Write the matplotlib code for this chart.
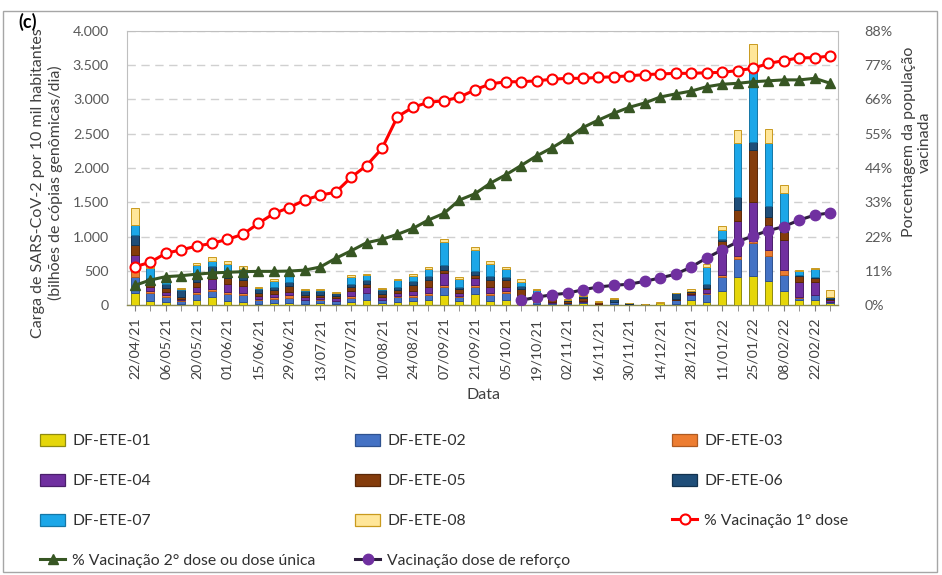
import matplotlib
matplotlib.use("Agg")
import matplotlib.pyplot as plt
from matplotlib.patches import Rectangle, Patch
from matplotlib.lines import Line2D
from matplotlib.ticker import FuncFormatter, MultipleLocator
import numpy as np

plt.rcParams['font.family'] = ['Lato', 'DejaVu Sans']

# ---------------- data ----------------
tick_labels = ["22/04/21", "06/05/21", "20/05/21", "01/06/21", "15/06/21", "29/06/21",
               "13/07/21", "27/07/21", "10/08/21", "24/08/21", "07/09/21", "21/09/21",
               "05/10/21", "19/10/21", "02/11/21", "16/11/21", "30/11/21", "14/12/21",
               "28/12/21", "11/01/22", "25/01/22", "08/02/22", "22/02/22"]

ete01 = [170, 60, 40, 20, 70, 110, 60, 50, 20, 30, 30, 20, 30, 15, 40, 80, 30, 50, 60, 80,
         140, 60, 160, 60, 80, 40, 20, 20, 20, 25, 15, 10, 0, 0, 25, 10, 80, 40, 204, 404,
         423, 355, 209, 70, 80, 35]
ete02 = [243, 120, 80, 40, 90, 90, 100, 90, 50, 60, 70, 50, 50, 40, 60, 90, 40, 60, 60, 70,
         130, 50, 110, 90, 90, 40, 30, 15, 10, 20, 0, 40, 20, 10, 0, 60, 60, 120, 209, 263,
         477, 365, 229, 30, 60, 15]
ete03 = [97, 30, 20, 10, 30, 30, 30, 30, 20, 30, 40, 10, 10, 10, 30, 10, 10, 20, 20, 30,
         20, 20, 20, 30, 30, 20, 10, 0, 0, 0, 0, 0, 0, 0, 0, 0, 5, 10, 30, 49,
         40, 83, 73, 10, 10, 0]
ete04 = [219, 60, 50, 20, 80, 150, 120, 110, 40, 40, 50, 40, 30, 30, 70, 90, 40, 50, 60, 80,
         180, 40, 110, 90, 70, 40, 20, 15, 0, 20, 0, 0, 0, 0, 0, 10, 20, 60, 365, 516,
         569, 365, 438, 230, 190, 30]
ete05 = [146, 70, 60, 30, 60, 100, 90, 80, 40, 60, 90, 30, 30, 30, 60, 40, 40, 40, 90, 100,
         40, 60, 40, 100, 90, 100, 40, 40, 30, 40, 25, 0, 0, 0, 10, 10, 20, 20, 122, 156,
         754, 122, 112, 80, 50, 10]
ete06 = [146, 60, 50, 100, 110, 90, 110, 70, 60, 40, 60, 60, 50, 50, 50, 60, 60, 40, 60, 60,
         70, 40, 60, 60, 50, 40, 20, 10, 10, 20, 10, 40, 14, 10, 0, 80, 15, 50, 30, 195,
         122, 156, 107, 20, 20, 20]
ete07 = [146, 140, 90, 10, 140, 76, 90, 100, 20, 90, 90, 10, 20, 5, 100, 70, 10, 100, 70, 110,
         340, 110, 300, 170, 110, 60, 80, 5, 0, 10, 0, 0, 0, 0, 0, 5, 10, 260, 136, 788,
         1119, 925, 462, 50, 110, 0]
ete08 = [243, 40, 25, 24, 40, 50, 42, 35, 18, 28, 25, 19, 19, 15, 28, 12, 20, 20, 30, 30,
         40, 22, 42, 45, 40, 38, 18, 10, 13, 8, 8, 7, 0, 0, 5, 5, 30, 40, 63, 185,
         302, 204, 122, 20, 15, 110]

vac_dose1 = [12.3, 13.7, 16.6, 17.7, 18.9, 19.8, 21.1, 22.7, 26.2, 29.4, 31.3, 33.7, 35.3, 36.2,
             41.0, 44.8, 50.3, 60.5, 63.5, 65.1, 65.6, 66.7, 69.1, 71.0, 71.7, 71.7, 72.0, 72.5,
             72.8, 72.8, 73.1, 73.3, 73.6, 74.0, 74.2, 74.4, 74.4, 74.6, 74.7, 75.3, 76.0, 77.6,
             78.5, 79.4, 79.4, 80.0]
vac_dose2 = [6.3, 8.0, 9.1, 9.4, 9.9, 10.3, 10.5, 10.7, 10.8, 10.8, 10.9, 11.2, 12.2, 15.0,
             17.4, 20.0, 21.1, 22.7, 24.6, 27.3, 29.4, 33.7, 35.7, 39.1, 41.8, 44.8, 47.9, 50.5,
             53.5, 57.0, 59.4, 61.6, 63.5, 64.9, 66.8, 67.8, 68.7, 70.1, 70.9, 71.2, 71.7, 72.0,
             72.3, 72.3, 72.8, 71.2]
booster_start = 25
vac_booster = [1.5, 2.5, 3.3, 3.8, 4.9, 5.8, 6.3, 6.7, 7.6, 8.7, 9.9, 12.2, 15.1, 17.7, 20.3,
               22.2, 23.9, 25.2, 27.3, 28.9, 29.6]

series = [ete01, ete02, ete03, ete04, ete05, ete06, ete07, ete08]
names = ["DF-ETE-01", "DF-ETE-02", "DF-ETE-03", "DF-ETE-04",
         "DF-ETE-05", "DF-ETE-06", "DF-ETE-07", "DF-ETE-08"]
fills = ["#E5D60A", "#4472C4", "#ED7D31", "#7030A0", "#843C0C", "#1F4E79", "#1CA7E8", "#FFE699"]
edges = ["#8E8A10", "#2F528F", "#AE5A21", "#4A1F6B", "#5A2808", "#13324E", "#1577A6", "#C99A1E"]

# ---------------- figure ----------------
W, H = 942, 575
fig = plt.figure(figsize=(W / 100, H / 100), dpi=100)

def fx(px):
    return px / W

def fy(py):
    return 1 - py / H

L, R, T, B = 127, 838, 31, 305
ax = fig.add_axes([fx(L), fy(B), fx(R - L), (B - T) / H])

x = np.arange(len(ete01))
bottom = np.zeros(len(x))
for s, n, fc, ec in zip(series, names, fills, edges):
    ax.bar(x, s, width=0.5, bottom=bottom, color=fc, edgecolor=ec, linewidth=0.7,
           label=n, zorder=3)
    bottom += np.array(s, dtype=float)

ax.set_xlim(-0.5, len(x) - 0.5)
ax.set_ylim(0, 4000)
ax.yaxis.set_major_locator(MultipleLocator(500))
ax.yaxis.set_major_formatter(FuncFormatter(lambda v, p: f"{int(v):,}".replace(",", ".")))
ax.grid(axis='y', color='#D0D0D0', linestyle=(0, (6, 4)), linewidth=1.0, zorder=0)
ax.set_axisbelow(True)

ax.set_xticks(np.arange(0, len(x), 2))
ax.set_xticklabels(tick_labels, rotation=90, fontsize=10.2, color='#404040')
ax.set_xticks(np.arange(1, len(x), 2), minor=True)
ax.tick_params(axis='x', which='both', length=4, color='#808080', pad=5)
ax.tick_params(axis='y', length=0, labelsize=10.3, labelcolor='#595959', pad=13)

for side in ['top', 'left', 'right']:
    ax.spines[side].set_color('#BFBFBF')
ax.spines['bottom'].set_color('#8A8A50')
ax.spines['bottom'].set_linewidth(1.0)

ax2 = ax.twinx()
ax2.set_ylim(0, 88)
ax2.yaxis.set_major_locator(MultipleLocator(11))
ax2.yaxis.set_major_formatter(FuncFormatter(lambda v, p: f"{int(round(v))}%"))
ax2.tick_params(axis='y', length=0, labelsize=10.3, labelcolor='#595959', pad=19)
for side in ['top', 'left', 'right', 'bottom']:
    ax2.spines[side].set_visible(False)

l1, = ax2.plot(x, vac_dose1, color='#FF0000', lw=2.2, marker='o', ms=7.2, mfc='white',
               mec='#FF0000', mew=1.5, label='% Vacinação 1° dose', zorder=5)
l2, = ax2.plot(x, vac_dose2, color='#375623', lw=2.2, marker='^', ms=6.5, mfc='#375623',
               mec='#375623', label='% Vacinação 2° dose ou dose única', zorder=5)
xb = np.arange(booster_start, booster_start + len(vac_booster))
l3, = ax2.plot(xb, vac_booster, color='#2E1F3F', lw=2.2, marker='o', ms=7.5, mfc='#7030A0',
               mec='#7030A0', label='Vacinação dose de reforço', zorder=5)

# axis titles
fig.text(fx(47), fy(183), "Carga de SARS-CoV-2 por 10 mil habitantes\n(bilhões de cópias genômicas/dia)",
         rotation=90, ha='center', va='center', multialignment='center', fontsize=11.5,
         color='#404040')
fig.text(fx(917), fy(142), "Porcentagem da população\nvacinada", rotation=90, ha='center',
         va='center', multialignment='center', fontsize=11.5, color='#404040')
fig.text(fx(483), fy(395), "Data", ha='center', va='center', fontsize=11.5, color='#404040')
fig.text(fx(18), fy(22), "(c)", ha='left', va='center', fontsize=13, fontweight='bold',
         color='black')

# outer border
fig.add_artist(Rectangle((fx(3), fy(572)), fx(934), (572 - 11) / H, transform=fig.transFigure,
                         fill=False, edgecolor='#A6A6A6', linewidth=1.0))

# legend (three columns)
ph = [Patch(facecolor=fc, edgecolor=ec, linewidth=0.9) for fc, ec in zip(fills, edges)]
cols = [
    ([ph[0], ph[3], ph[6], l2], [names[0], names[3], names[6], l2.get_label()], 40),
    ([ph[1], ph[4], ph[7], l3], [names[1], names[4], names[7], l3.get_label()], 355),
    ([ph[2], ph[5], l1], [names[2], names[5], l1.get_label()], 672),
]
for hs, ls, xpos in cols:
    fig.legend(hs, ls, loc='upper left', bbox_to_anchor=(fx(xpos), fy(434)),
               frameon=False, fontsize=11.3, handlelength=1.6, handleheight=0.8,
               handletextpad=0.45, labelspacing=1.62, borderpad=0, borderaxespad=0,
               labelcolor='#303030')

fig.savefig("out.png", dpi=100)
